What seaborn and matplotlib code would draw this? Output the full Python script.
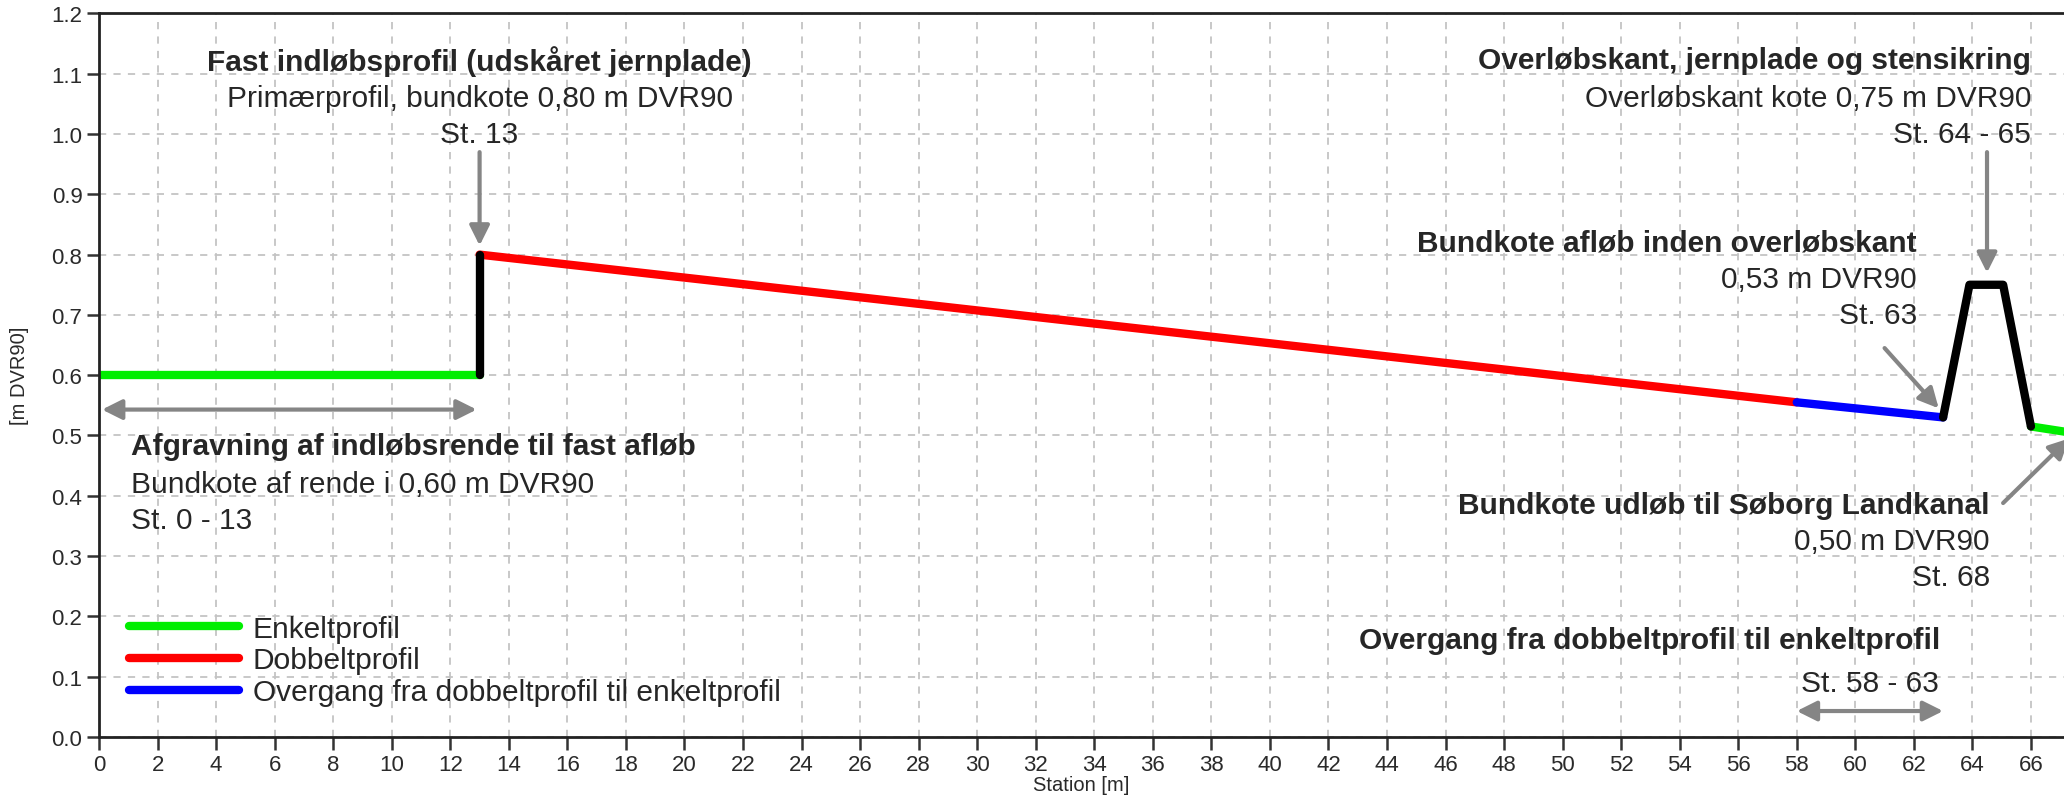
import matplotlib
matplotlib.use("Agg")
import matplotlib.pyplot as plt
import seaborn as sns

# Profildata (station [m], kote [m DVR90])
enkelt_x = [0, 13]
enkelt_y = [0.60, 0.60]
dobbelt_x = [13, 58]
dobbelt_y = [0.80, 0.555]
overgang_x = [58, 63]
overgang_y = [0.555, 0.53]
plade_x = [13, 13]
plade_y = [0.60, 0.80]
overloeb_x = [63, 63.9, 65.05, 66]
overloeb_y = [0.53, 0.75, 0.75, 0.515]
udloeb_x = [66, 68]
udloeb_y = [0.515, 0.50]

x_ticks = list(range(0, 68, 2))
y_ticks = [i / 10 for i in range(0, 13)]

sns.set_theme(style="whitegrid")
plt.rcParams["font.family"] = ["Liberation Sans", "DejaVu Sans"]

fig = plt.figure(figsize=(20.64, 8.03), dpi=100)
ax = fig.add_axes([0.048, 0.081, 0.952, 0.901])

lw = 6
sns.lineplot(x=enkelt_x, y=enkelt_y, color="#00ee00", lw=lw, estimator=None, sort=False, ax=ax, label="Enkeltprofil")
sns.lineplot(x=dobbelt_x, y=dobbelt_y, color="#ff0000", lw=lw, estimator=None, sort=False, ax=ax, label="Dobbeltprofil")
sns.lineplot(x=overgang_x, y=overgang_y, color="#0000ff", lw=lw, estimator=None, sort=False, ax=ax,
             label="Overgang fra dobbeltprofil til enkeltprofil")
sns.lineplot(x=udloeb_x, y=udloeb_y, color="#00ee00", lw=lw, estimator=None, sort=False, ax=ax)
sns.lineplot(x=plade_x, y=plade_y, color="black", lw=lw, estimator=None, sort=False, ax=ax)
sns.lineplot(x=overloeb_x, y=overloeb_y, color="black", lw=lw, estimator=None, sort=False, ax=ax)

ax.set_xlim(0, 67.13)
ax.set_ylim(0, 1.2)
ax.set_xticks(x_ticks)
ax.set_yticks(y_ticks)
ax.set_yticklabels([f"{v:.1f}" for v in y_ticks])
ax.tick_params(axis="both", which="major", labelsize=16, length=9, width=1.8,
               color="#333333", labelcolor="#2a2a2a", bottom=True, left=True, pad=3)
ax.grid(True, linestyle=(0, (4, 4)), color="#c4c4c4", lw=1.3)
for side in ["left", "bottom", "top"]:
    ax.spines[side].set_color("#222222")
    ax.spines[side].set_linewidth(2)
ax.spines["right"].set_visible(False)
ax.set_xlabel("Station [m]", fontsize=14.5, labelpad=0, color="#2a2a2a")
ax.set_ylabel("[m DVR90]", fontsize=14.5, labelpad=16, color="#2a2a2a")

fs = 21.5
grey = "#858585"
arrow = dict(arrowstyle="-|>", color=grey, lw=3, mutation_scale=30, shrinkA=0, shrinkB=0)
darrow = dict(arrowstyle="<|-|>", color=grey, lw=3, mutation_scale=30, shrinkA=0, shrinkB=0)

# Fast indløbsprofil
ax.text(13, 1.122, "Fast indløbsprofil (udskåret jernplade)", ha="center", va="center", fontsize=fs, fontweight="bold")
ax.text(13, 1.06, "Primærprofil, bundkote 0,80 m DVR90", ha="center", va="center", fontsize=fs)
ax.text(13, 1.0, "St. 13", ha="center", va="center", fontsize=fs)
ax.annotate("", xy=(13, 0.815), xytext=(13, 0.97), arrowprops=arrow)

# Afgravning
ax.annotate("", xy=(0.1, 0.543), xytext=(12.9, 0.543), arrowprops=darrow)
ax.text(1.1, 0.483, "Afgravning af indløbsrende til fast afløb", ha="left", va="center", fontsize=fs, fontweight="bold")
ax.text(1.1, 0.419, "Bundkote af rende i 0,60 m DVR90", ha="left", va="center", fontsize=fs)
ax.text(1.1, 0.36, "St. 0 - 13", ha="left", va="center", fontsize=fs)

# Overløbskant
ax.text(66.0, 1.122, "Overløbskant, jernplade og stensikring", ha="right", va="center", fontsize=fs, fontweight="bold")
ax.text(66.0, 1.06, "Overløbskant kote 0,75 m DVR90", ha="right", va="center", fontsize=fs)
ax.text(66.0, 1.0, "St. 64 - 65", ha="right", va="center", fontsize=fs)
ax.annotate("", xy=(64.5, 0.77), xytext=(64.5, 0.97), arrowprops=arrow)

# Bundkote afløb inden overløbskant
ax.text(62.1, 0.82, "Bundkote afløb inden overløbskant", ha="right", va="center", fontsize=fs, fontweight="bold")
ax.text(62.1, 0.76, "0,53 m DVR90", ha="right", va="center", fontsize=fs)
ax.text(62.1, 0.70, "St. 63", ha="right", va="center", fontsize=fs)
ax.annotate("", xy=(62.85, 0.545), xytext=(61.0, 0.645), arrowprops=arrow)

# Udløb
ax.text(64.6, 0.384, "Bundkote udløb til Søborg Landkanal", ha="right", va="center", fontsize=fs, fontweight="bold")
ax.text(64.6, 0.325, "0,50 m DVR90", ha="right", va="center", fontsize=fs)
ax.text(64.6, 0.266, "St. 68", ha="right", va="center", fontsize=fs)
ax.annotate("", xy=(67.3, 0.495), xytext=(65.05, 0.388), arrowprops=arrow, annotation_clip=False)

# Overgang
ax.text(62.9, 0.161, "Overgang fra dobbeltprofil til enkeltprofil", ha="right", va="center", fontsize=fs, fontweight="bold")
ax.text(60.5, 0.09, "St. 58 - 63", ha="center", va="center", fontsize=fs)
ax.annotate("", xy=(58.0, 0.043), xytext=(63.0, 0.043), arrowprops=darrow)

leg = ax.legend(loc="lower left", bbox_to_anchor=(0.006, 0.018), frameon=False, fontsize=fs,
                handlelength=3.7, handletextpad=0.45, labelspacing=0.12, borderaxespad=0.2,
                borderpad=0.4)

fig.savefig("out.png", dpi=100)
